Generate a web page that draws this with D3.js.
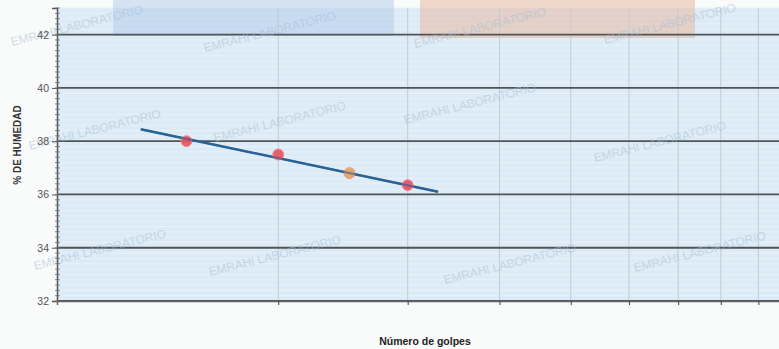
<!DOCTYPE html>
<html>
<head>
<meta charset="utf-8">
<script src="https://cdn.jsdelivr.net/npm/d3@7/dist/d3.min.js"></script>
<style>
  html, body { margin: 0; padding: 0; background: #f9fafa; }
  svg { display: block; font-family: "Liberation Sans", Arial, sans-serif; }
</style>
</head>
<body>
<svg id="chart" width="779" height="349"></svg>
<script>
// ---- data ----
const blows = [15, 20, 25, 30];                 // Número de golpes
const moisture = [38.0, 37.5, 36.8, 36.35];     // % de humedad
const pointColors = ["#e9525e", "#e9525e", "#e6a25c", "#e64f66"];
const trendBlows = [13, 33];                    // trend line ends (read)
const trendMoisture = [38.45, 36.1];
const yTicks = [32, 34, 36, 38, 40, 42];
const xGrid = [20, 30, 40, 50, 60, 70, 80, 90];
const xTitle = "Número de golpes";
const yTitle = "% DE HUMEDAD";
const watermarkText = "EMRAHI LABORATORIO";

const svg = d3.select("#chart");
const m = { left: 57, top: 8, bottom: 301, right: 792 };

const x = d3.scaleLog().domain([10, 100]).range([m.left, m.right]);
const y = d3.scaleLinear().domain([32, 43]).range([m.bottom, m.top]);

// plot background
svg.append("rect").attr("x", m.left).attr("y", m.top)
  .attr("width", m.right - m.left).attr("height", m.bottom - m.top)
  .attr("fill", "#dcebf6");

// scanned-paper texture: faint minor horizontal lines
const minor = d3.range(32, 43.001, 0.2);
svg.append("g").selectAll("line").data(minor).join("line")
  .attr("x1", m.left).attr("x2", m.right)
  .attr("y1", d => y(d)).attr("y2", d => y(d))
  .attr("stroke", "#e8f2f9").attr("stroke-width", 1);

// highlighted header bands (from the scanned sheet)
svg.append("rect").attr("x", 113).attr("y", 0).attr("width", 281).attr("height", 36)
  .attr("fill", "#aac8e8").attr("opacity", 0.45);
svg.append("rect").attr("x", 420).attr("y", 0).attr("width", 275).attr("height", 38)
  .attr("fill", "#e8b9a2").attr("opacity", 0.55);

// vertical grid
svg.append("g").selectAll("line").data(xGrid).join("line")
  .attr("x1", d => x(d)).attr("x2", d => x(d))
  .attr("y1", m.top).attr("y2", m.bottom)
  .attr("stroke", "#c2ccd3").attr("stroke-width", 1);

// horizontal major grid
svg.append("g").selectAll("line").data(yTicks).join("line")
  .attr("x1", m.left).attr("x2", m.right)
  .attr("y1", d => y(d)).attr("y2", d => y(d))
  .attr("stroke", "#4f5457").attr("stroke-width", 1.8);

// watermarks (scanned stamp)
const wm = [
  [12, 46], [205, 52], [415, 48], [605, 44],
  [30, 150], [215, 142], [405, 124], [595, 162],
  [35, 270], [210, 276], [445, 284], [635, 272]
];
svg.append("g").selectAll("text").data(wm).join("text")
  .attr("transform", d => `translate(${d[0]},${d[1]}) rotate(-14)`)
  .attr("font-size", 12).attr("fill", "#a7bfd4").attr("opacity", 0.5)
  .text(watermarkText);

// y axis
const yAxis = d3.axisLeft(y).tickValues(yTicks).tickSize(5).tickFormat(d3.format("d"));
const gy = svg.append("g").attr("transform", `translate(${m.left},0)`).call(yAxis);
gy.select(".domain").attr("stroke", "#555").attr("stroke-width", 1.5);
gy.selectAll(".tick line").attr("stroke", "#555");
gy.selectAll(".tick text").attr("fill", "#555").attr("font-size", 10.5)
  .attr("font-family", "Liberation Sans, Arial, sans-serif");
// minor ticks
svg.append("g").selectAll("line").data(minor).join("line")
  .attr("x1", m.left - 2).attr("x2", m.left + 3)
  .attr("y1", d => y(d)).attr("y2", d => y(d))
  .attr("stroke", "#6a6f72").attr("stroke-width", 0.8);

// x axis
const xAxis = d3.axisBottom(x).tickValues(xGrid).tickSize(4).tickFormat("");
const gx = svg.append("g").attr("transform", `translate(0,${m.bottom})`).call(xAxis);
gx.select(".domain").attr("stroke", "#666").attr("stroke-width", 1.5);
gx.selectAll(".tick line").attr("stroke", "#444");

// trend line
const trend = trendBlows.map((b, i) => ({ b, w: trendMoisture[i] }));
const lineGen = d3.line().x(d => x(d.b)).y(d => y(d.w));
svg.append("path").datum(trend).attr("d", lineGen)
  .attr("stroke", "#2b6394").attr("stroke-width", 2.5).attr("fill", "none");

// points
const pts = blows.map((b, i) => ({ b, w: moisture[i], c: pointColors[i] }));
svg.append("g").selectAll("circle").data(pts).join("circle")
  .attr("cx", d => x(d.b)).attr("cy", d => y(d.w)).attr("r", 5.5)
  .attr("fill", d => d.c).attr("stroke", "#f08a8a").attr("stroke-width", 1).attr("opacity", 0.9);
svg.append("path").datum(trend).attr("d", lineGen)
  .attr("stroke", "#2b6394").attr("stroke-width", 2).attr("fill", "none").attr("opacity", 0.55);

// titles
svg.append("text").attr("x", 425).attr("y", 345).attr("text-anchor", "middle")
  .attr("font-size", 10.5).attr("font-weight", "bold").attr("fill", "#222")
  .text(xTitle);
svg.append("text").attr("transform", "translate(21,145) rotate(-90)")
  .attr("text-anchor", "middle").attr("font-size", 10).attr("font-weight", "bold")
  .attr("fill", "#333").text(yTitle);
</script>
</body>
</html>
